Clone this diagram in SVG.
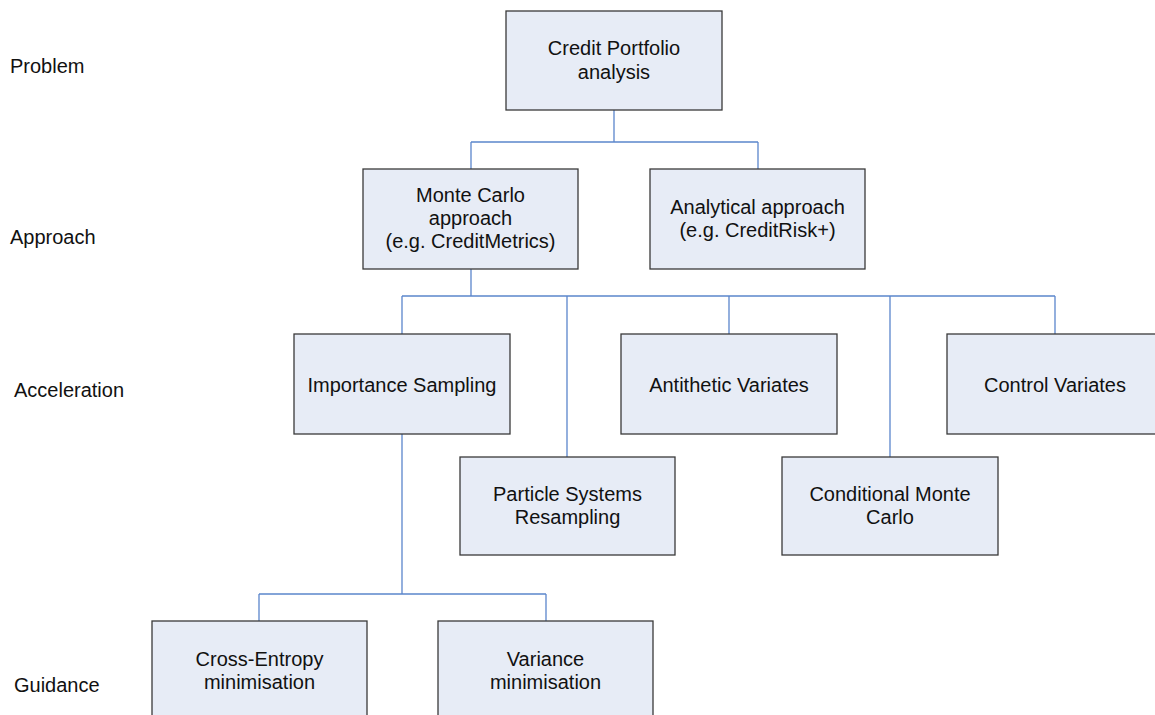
<svg xmlns="http://www.w3.org/2000/svg" width="1155" height="715" viewBox="0 0 1155 715">
<style>
.box{fill:#E7ECF6;stroke:#3A3A3A;stroke-width:1.3}
.t{font-family:"Liberation Sans",Arial,sans-serif;font-size:20px;fill:#111;text-anchor:middle}
.lbl{font-family:"Liberation Sans",Arial,sans-serif;font-size:20px;fill:#111}
.c{fill:none;stroke:#5B86CC;stroke-width:1.3}
</style>
<rect width="1155" height="715" fill="#fff"/>
<g id="levels">
<text class="lbl" x="10" y="73">Problem</text>
<text class="lbl" x="10" y="244">Approach</text>
<text class="lbl" x="14" y="397">Acceleration</text>
<text class="lbl" x="14" y="692">Guidance</text>
</g>
<g id="connectors">
<path class="c" d="M614 110V142M471 142H758M471 142V169M758 142V169"/>
<path class="c" d="M471 269V296M402 296H1055M402 296V334M567 296V457M729 296V334M890 296V457M1055 296V334"/>
<path class="c" d="M402 434V594M259 594H546M259 594V621M546 594V621"/>
</g>
<g id="credit">
<rect class="box" x="506" y="11" width="216" height="99"/>
<text class="t" x="614" y="55">Credit Portfolio</text>
<text class="t" x="614" y="79">analysis</text>
</g>
<g id="montecarlo">
<rect class="box" x="363" y="169" width="215" height="100"/>
<text class="t" x="470.5" y="202">Monte Carlo</text>
<text class="t" x="470.5" y="225">approach</text>
<text class="t" x="470.5" y="248">(e.g. CreditMetrics)</text>
</g>
<g id="analytical">
<rect class="box" x="650" y="169" width="215" height="100"/>
<text class="t" x="757.5" y="214">Analytical approach</text>
<text class="t" x="757.5" y="237">(e.g. CreditRisk+)</text>
</g>
<g id="importance">
<rect class="box" x="294" y="334" width="216" height="100"/>
<text class="t" x="402" y="392">Importance Sampling</text>
</g>
<g id="antithetic">
<rect class="box" x="621" y="334" width="216" height="100"/>
<text class="t" x="729" y="392">Antithetic Variates</text>
</g>
<g id="control">
<rect class="box" x="947" y="334" width="216" height="100"/>
<text class="t" x="1055" y="392">Control Variates</text>
</g>
<g id="particle">
<rect class="box" x="460" y="457" width="215" height="98"/>
<text class="t" x="567.5" y="501">Particle Systems</text>
<text class="t" x="567.5" y="524">Resampling</text>
</g>
<g id="conditional">
<rect class="box" x="782" y="457" width="216" height="98"/>
<text class="t" x="890" y="501">Conditional Monte</text>
<text class="t" x="890" y="524">Carlo</text>
</g>
<g id="crossentropy">
<rect class="box" x="152" y="621" width="215" height="100"/>
<text class="t" x="259.5" y="666">Cross-Entropy</text>
<text class="t" x="259.5" y="689">minimisation</text>
</g>
<g id="variance">
<rect class="box" x="438" y="621" width="215" height="100"/>
<text class="t" x="545.5" y="666">Variance</text>
<text class="t" x="545.5" y="689">minimisation</text>
</g>
</svg>
